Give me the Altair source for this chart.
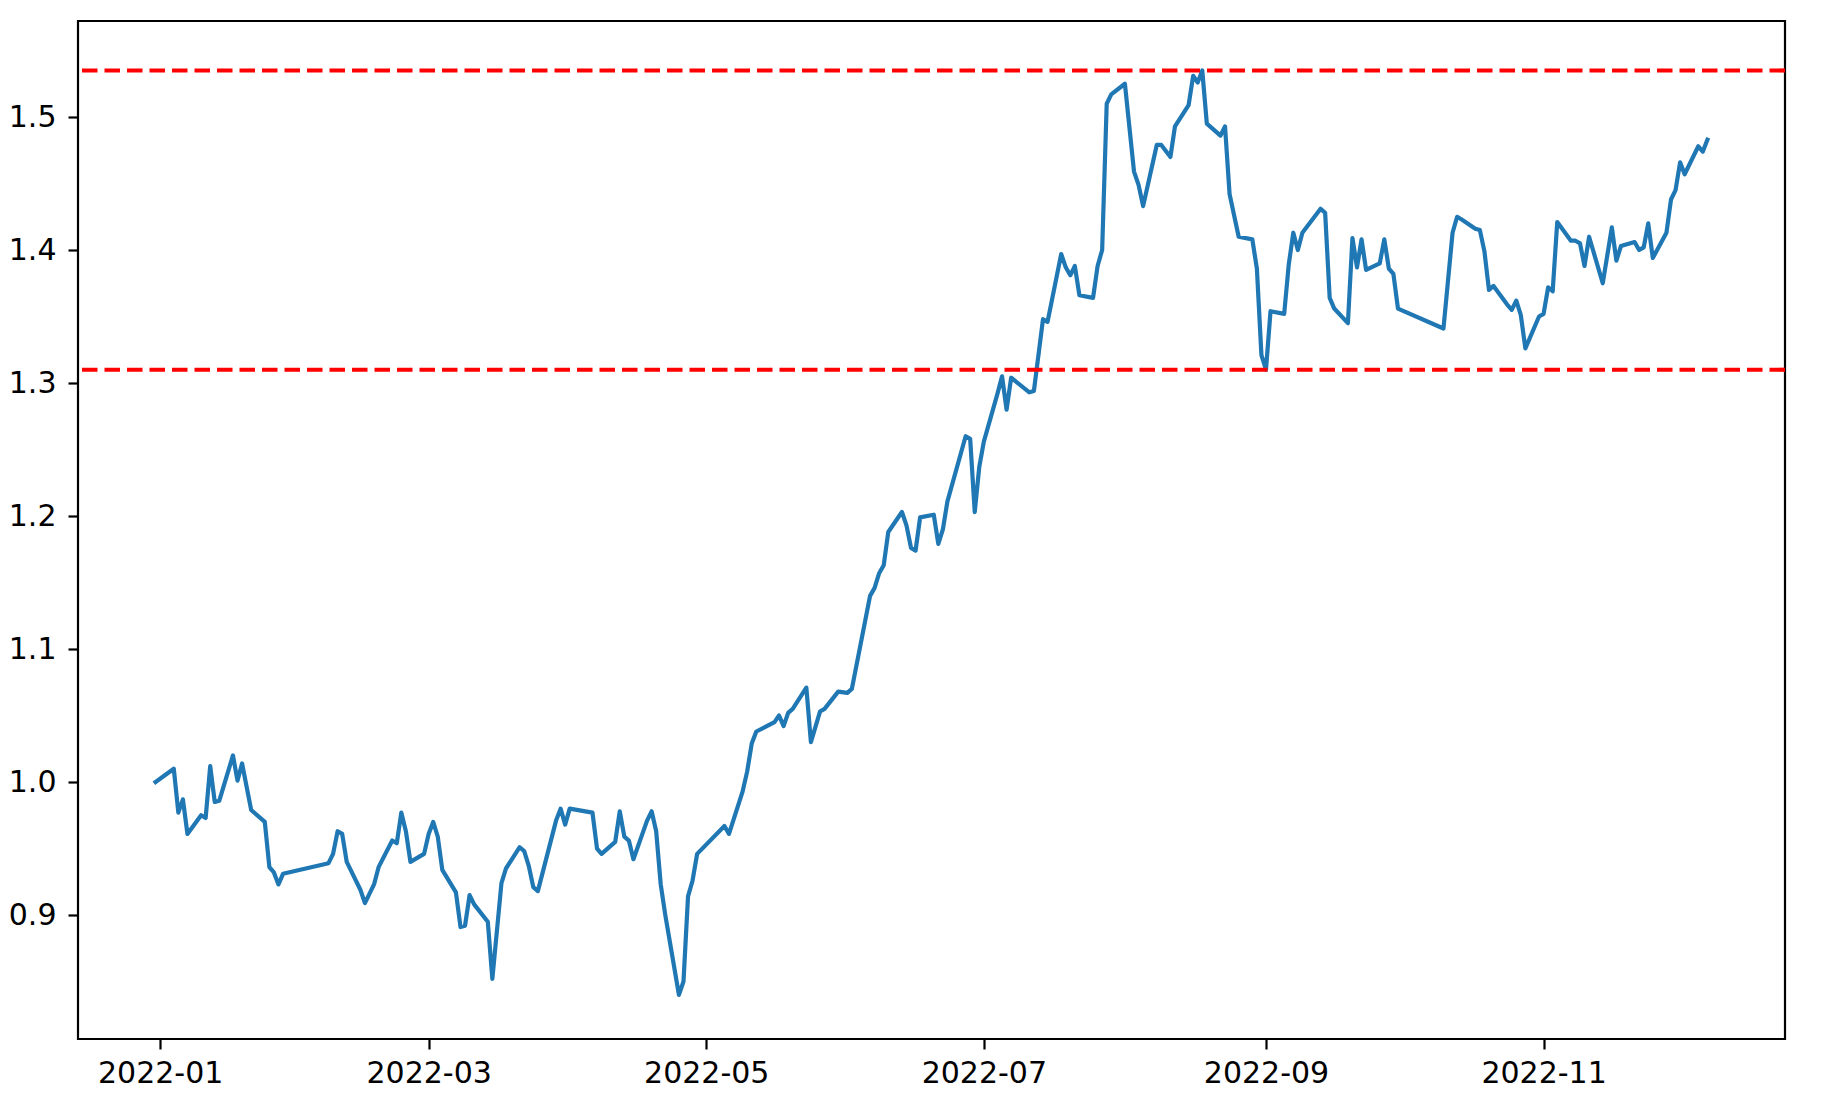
import altair as alt
import pandas as pd

dates = [
    "2021-12-31", "2022-01-04", "2022-01-05", "2022-01-06", "2022-01-07", "2022-01-10",
    "2022-01-11", "2022-01-12", "2022-01-13", "2022-01-14", "2022-01-17", "2022-01-18",
    "2022-01-19", "2022-01-21", "2022-01-24", "2022-01-25", "2022-01-26", "2022-01-27",
    "2022-01-28", "2022-02-07", "2022-02-08", "2022-02-09", "2022-02-10", "2022-02-11",
    "2022-02-14", "2022-02-15", "2022-02-17", "2022-02-18", "2022-02-21", "2022-02-22",
    "2022-02-23", "2022-02-24", "2022-02-25", "2022-02-28", "2022-03-01", "2022-03-02",
    "2022-03-03", "2022-03-04", "2022-03-07", "2022-03-08", "2022-03-09", "2022-03-10",
    "2022-03-11", "2022-03-14", "2022-03-15", "2022-03-17", "2022-03-18", "2022-03-21",
    "2022-03-22", "2022-03-23", "2022-03-24", "2022-03-25", "2022-03-29", "2022-03-30",
    "2022-03-31", "2022-04-01", "2022-04-06", "2022-04-07", "2022-04-08", "2022-04-11",
    "2022-04-12", "2022-04-13", "2022-04-14", "2022-04-15", "2022-04-18", "2022-04-19",
    "2022-04-20", "2022-04-21", "2022-04-22", "2022-04-25", "2022-04-26", "2022-04-27",
    "2022-04-28", "2022-04-29", "2022-05-05", "2022-05-06", "2022-05-09", "2022-05-10",
    "2022-05-11", "2022-05-12", "2022-05-16", "2022-05-17", "2022-05-18", "2022-05-19",
    "2022-05-20", "2022-05-23", "2022-05-24", "2022-05-26", "2022-05-27", "2022-05-30",
    "2022-06-01", "2022-06-02", "2022-06-06", "2022-06-07", "2022-06-08", "2022-06-09",
    "2022-06-10", "2022-06-13", "2022-06-14", "2022-06-15", "2022-06-16", "2022-06-17",
    "2022-06-20", "2022-06-21", "2022-06-22", "2022-06-23", "2022-06-27", "2022-06-28",
    "2022-06-29", "2022-06-30", "2022-07-01", "2022-07-04", "2022-07-05", "2022-07-06",
    "2022-07-07", "2022-07-11", "2022-07-12", "2022-07-14", "2022-07-15", "2022-07-18",
    "2022-07-19", "2022-07-20", "2022-07-21", "2022-07-22", "2022-07-25", "2022-07-26",
    "2022-07-27", "2022-07-28", "2022-07-29", "2022-08-01", "2022-08-03", "2022-08-04",
    "2022-08-05", "2022-08-08", "2022-08-09", "2022-08-11", "2022-08-12", "2022-08-15",
    "2022-08-16", "2022-08-17", "2022-08-18", "2022-08-19", "2022-08-22", "2022-08-23",
    "2022-08-24", "2022-08-26", "2022-08-29", "2022-08-30", "2022-08-31", "2022-09-01",
    "2022-09-02", "2022-09-05", "2022-09-06", "2022-09-07", "2022-09-08", "2022-09-09",
    "2022-09-13", "2022-09-14", "2022-09-15", "2022-09-16", "2022-09-19", "2022-09-20",
    "2022-09-21", "2022-09-22", "2022-09-23", "2022-09-26", "2022-09-27", "2022-09-28",
    "2022-09-29", "2022-09-30", "2022-10-10", "2022-10-12", "2022-10-13", "2022-10-14",
    "2022-10-17", "2022-10-18", "2022-10-19", "2022-10-20", "2022-10-21", "2022-10-24",
    "2022-10-25", "2022-10-26", "2022-10-27", "2022-10-28", "2022-10-31", "2022-11-01",
    "2022-11-02", "2022-11-03", "2022-11-04", "2022-11-07", "2022-11-08", "2022-11-09",
    "2022-11-10", "2022-11-11", "2022-11-14", "2022-11-16", "2022-11-17", "2022-11-18",
    "2022-11-21", "2022-11-22", "2022-11-23", "2022-11-24", "2022-11-25", "2022-11-28",
    "2022-11-29", "2022-11-30", "2022-12-01", "2022-12-02", "2022-12-05", "2022-12-06",
    "2022-12-07",
]

values = [
    1.000, 1.010, 0.977, 0.987, 0.961, 0.975,
    0.973, 1.012, 0.985, 0.986, 1.020, 1.001,
    1.014, 0.979, 0.970, 0.936, 0.932, 0.923,
    0.931, 0.939, 0.946, 0.963, 0.961, 0.940,
    0.919, 0.909, 0.923, 0.936, 0.956, 0.954,
    0.977, 0.963, 0.940, 0.946, 0.961, 0.970,
    0.959, 0.934, 0.917, 0.891, 0.892, 0.915,
    0.908, 0.895, 0.852, 0.924, 0.935, 0.951,
    0.948, 0.937, 0.921, 0.918, 0.971, 0.980,
    0.968, 0.980, 0.977, 0.950, 0.946, 0.955,
    0.978, 0.959, 0.956, 0.942, 0.971, 0.978,
    0.963, 0.923, 0.900, 0.840, 0.850, 0.914,
    0.926, 0.946, 0.967, 0.961, 0.993, 1.008,
    1.029, 1.038, 1.045, 1.050, 1.042, 1.052,
    1.055, 1.071, 1.030, 1.053, 1.055, 1.068,
    1.067, 1.070, 1.140, 1.146, 1.157, 1.163,
    1.188, 1.203, 1.193, 1.176, 1.174, 1.199,
    1.201, 1.179, 1.190, 1.211, 1.260, 1.258,
    1.203, 1.237, 1.256, 1.292, 1.305, 1.280,
    1.304, 1.293, 1.294, 1.348, 1.346, 1.397,
    1.387, 1.381, 1.388, 1.366, 1.364, 1.388,
    1.400, 1.510, 1.517, 1.525, 1.459, 1.449,
    1.433, 1.479, 1.479, 1.470, 1.493, 1.509,
    1.531, 1.526, 1.535, 1.495, 1.486, 1.493,
    1.442, 1.410, 1.408, 1.386, 1.321, 1.310,
    1.354, 1.352, 1.389, 1.413, 1.400, 1.413,
    1.431, 1.428, 1.364, 1.356, 1.345, 1.409,
    1.387, 1.408, 1.385, 1.390, 1.408, 1.386,
    1.382, 1.356, 1.341, 1.413, 1.425, 1.423,
    1.416, 1.415, 1.399, 1.370, 1.373, 1.359,
    1.355, 1.362, 1.351, 1.326, 1.350, 1.352,
    1.372, 1.369, 1.421, 1.407, 1.407, 1.405,
    1.388, 1.410, 1.375, 1.417, 1.392, 1.403,
    1.406, 1.400, 1.402, 1.420, 1.394, 1.413,
    1.438, 1.445, 1.466, 1.457, 1.478, 1.474,
    1.483,
]

levels = [1.535, 1.310]
tick_months = [1, 3, 5, 7, 9, 11]
y_ticks = [0.9, 1.0, 1.1, 1.2, 1.3, 1.4, 1.5]

df = pd.DataFrame({"date": dates, "value": values})
lv = pd.DataFrame({"level": levels})

x_domain = [
    alt.DateTime(year=2021, month=12, date=13, hours=22, minutes=48, utc=True),
    alt.DateTime(year=2022, month=12, date=24, hours=1, minutes=12, utc=True),
]
tick_vals = [alt.DateTime(year=2022, month=m, date=1, utc=True) for m in tick_months]

FS = 30

x_enc = alt.X(
    "date:T",
    scale=alt.Scale(type="utc", domain=x_domain, nice=False),
    axis=alt.Axis(
        values=tick_vals,
        labelExpr="utcFormat(datum.value, '%Y-%m')",
        title=None,
        grid=False,
        tickSize=10,
        tickWidth=2.2,
        tickColor="black",
        labelPadding=9,
        domain=False,
        labelFontSize=FS,
        labelFont="DejaVu Sans",
        labelColor="black",
        labelFlush=False,
        labelOverlap=False,
    ),
)

y_scale = alt.Scale(domain=[0.8068, 1.5722], nice=False, zero=False)
y_axis = alt.Axis(
    values=y_ticks,
    format=".1f",
    title=None,
    grid=False,
    tickSize=10,
    tickWidth=2.2,
    tickColor="black",
    labelPadding=12,
    domain=False,
    labelFontSize=FS,
    labelFont="DejaVu Sans",
    labelColor="black",
    labelFlush=False,
    labelOverlap=False,
)

line = alt.Chart(df).mark_line(
    color="#1f77b4", strokeWidth=4.2, strokeJoin="round", strokeCap="square", clip=True
).encode(
    x=x_enc,
    y=alt.Y("value:Q", scale=y_scale, axis=y_axis),
)

rules = alt.Chart(lv).mark_rule(
    color="#ff0000", strokeWidth=4.2, strokeDash=[15.5, 7], clip=True
).encode(
    y=alt.Y("level:Q", scale=y_scale, axis=y_axis),
)

chart = alt.layer(line, rules).properties(
    width=1707,
    height=1018,
    autosize="none",
    background="white",
    padding={"left": 70, "top": 13, "right": 29, "bottom": 55},
).configure_view(
    stroke="black", strokeWidth=2.2
)

chart.save("out.html", embed_options={"renderer": "svg", "actions": False})
